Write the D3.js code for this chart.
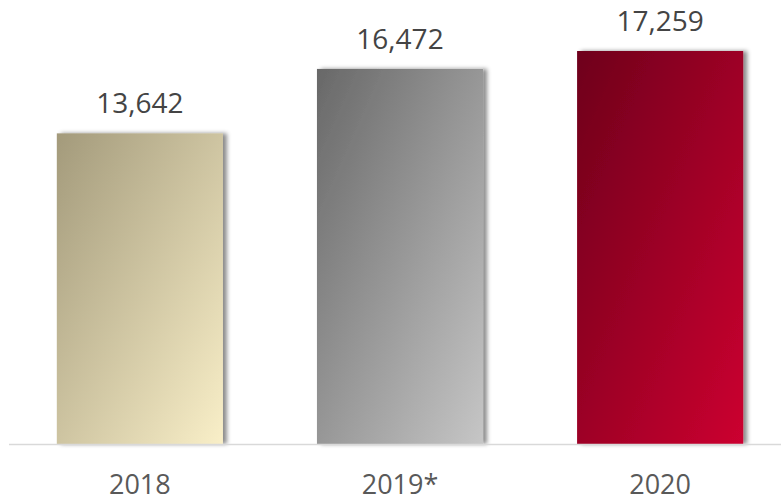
<!DOCTYPE html>
<html>
<head>
<meta charset="utf-8">
<script src="https://cdn.jsdelivr.net/npm/d3@7"></script>
<style>
  html, body { margin: 0; padding: 0; background: #fff; }
  svg { display: block; }
</style>
</head>
<body>
<svg id="chart" width="781" height="502"></svg>
<script>
const categories = ["2018", "2019*", "2020"];
const values = [13642, 16472, 17259];
const gradientStops = [
  ["#a39a7b", "#f9efc8"],
  ["#686868", "#c6c6c6"],
  ["#6e001b", "#cc0030"]
];

const W = 781, H = 502;
const baseline = 444;
const svg = d3.select("#chart");

const x = d3.scaleBand().domain(categories).range([10, 790]).paddingInner(0.3615).paddingOuter(0.18);
const y = d3.scaleLinear().domain([0, 17259]).range([baseline, 51]);

const defs = svg.append("defs");
categories.forEach((c, i) => {
  const g = defs.append("linearGradient")
    .attr("id", "grad" + i)
    .attr("x1", 0).attr("y1", 0).attr("x2", 1).attr("y2", 1);
  g.append("stop").attr("offset", "0%").attr("stop-color", gradientStops[i][0]);
  g.append("stop").attr("offset", "100%").attr("stop-color", gradientStops[i][1]);
});
const f = defs.append("filter").attr("id", "shadow")
  .attr("x", "-10%").attr("y", "-10%").attr("width", "130%").attr("height", "120%");
f.append("feDropShadow").attr("dx", 4).attr("dy", 0).attr("stdDeviation", 2.2)
  .attr("flood-color", "#000").attr("flood-opacity", 0.45);

const data = categories.map((c, i) => ({ c, v: values[i], i }));

svg.append("g").selectAll("rect").data(data).join("rect")
  .attr("x", d => x(d.c))
  .attr("y", d => y(d.v))
  .attr("width", x.bandwidth())
  .attr("height", d => baseline - y(d.v))
  .attr("fill", d => "url(#grad" + d.i + ")")
  .attr("filter", "url(#shadow)");

// baseline axis
svg.append("line")
  .attr("x1", 9).attr("x2", W)
  .attr("y1", baseline + 0.5).attr("y2", baseline + 0.5)
  .attr("stroke", "#d9d9d9").attr("stroke-width", 1.6);

const fmt = d3.format(",");
svg.append("g").selectAll("text").data(data).join("text")
  .attr("x", d => x(d.c) + x.bandwidth() / 2)
  .attr("y", d => y(d.v) - 20)
  .attr("text-anchor", "middle")
  .attr("font-family", "'Open Sans', sans-serif")
  .attr("font-size", 28)
  .attr("fill", "#444")
  .text(d => fmt(d.v));

svg.append("g").selectAll("text").data(data).join("text")
  .attr("x", d => x(d.c) + x.bandwidth() / 2)
  .attr("y", 494)
  .attr("text-anchor", "middle")
  .attr("font-family", "'Open Sans', sans-serif")
  .attr("font-size", 27)
  .attr("fill", "#595959")
  .text(d => d.c);
</script>
</body>
</html>
